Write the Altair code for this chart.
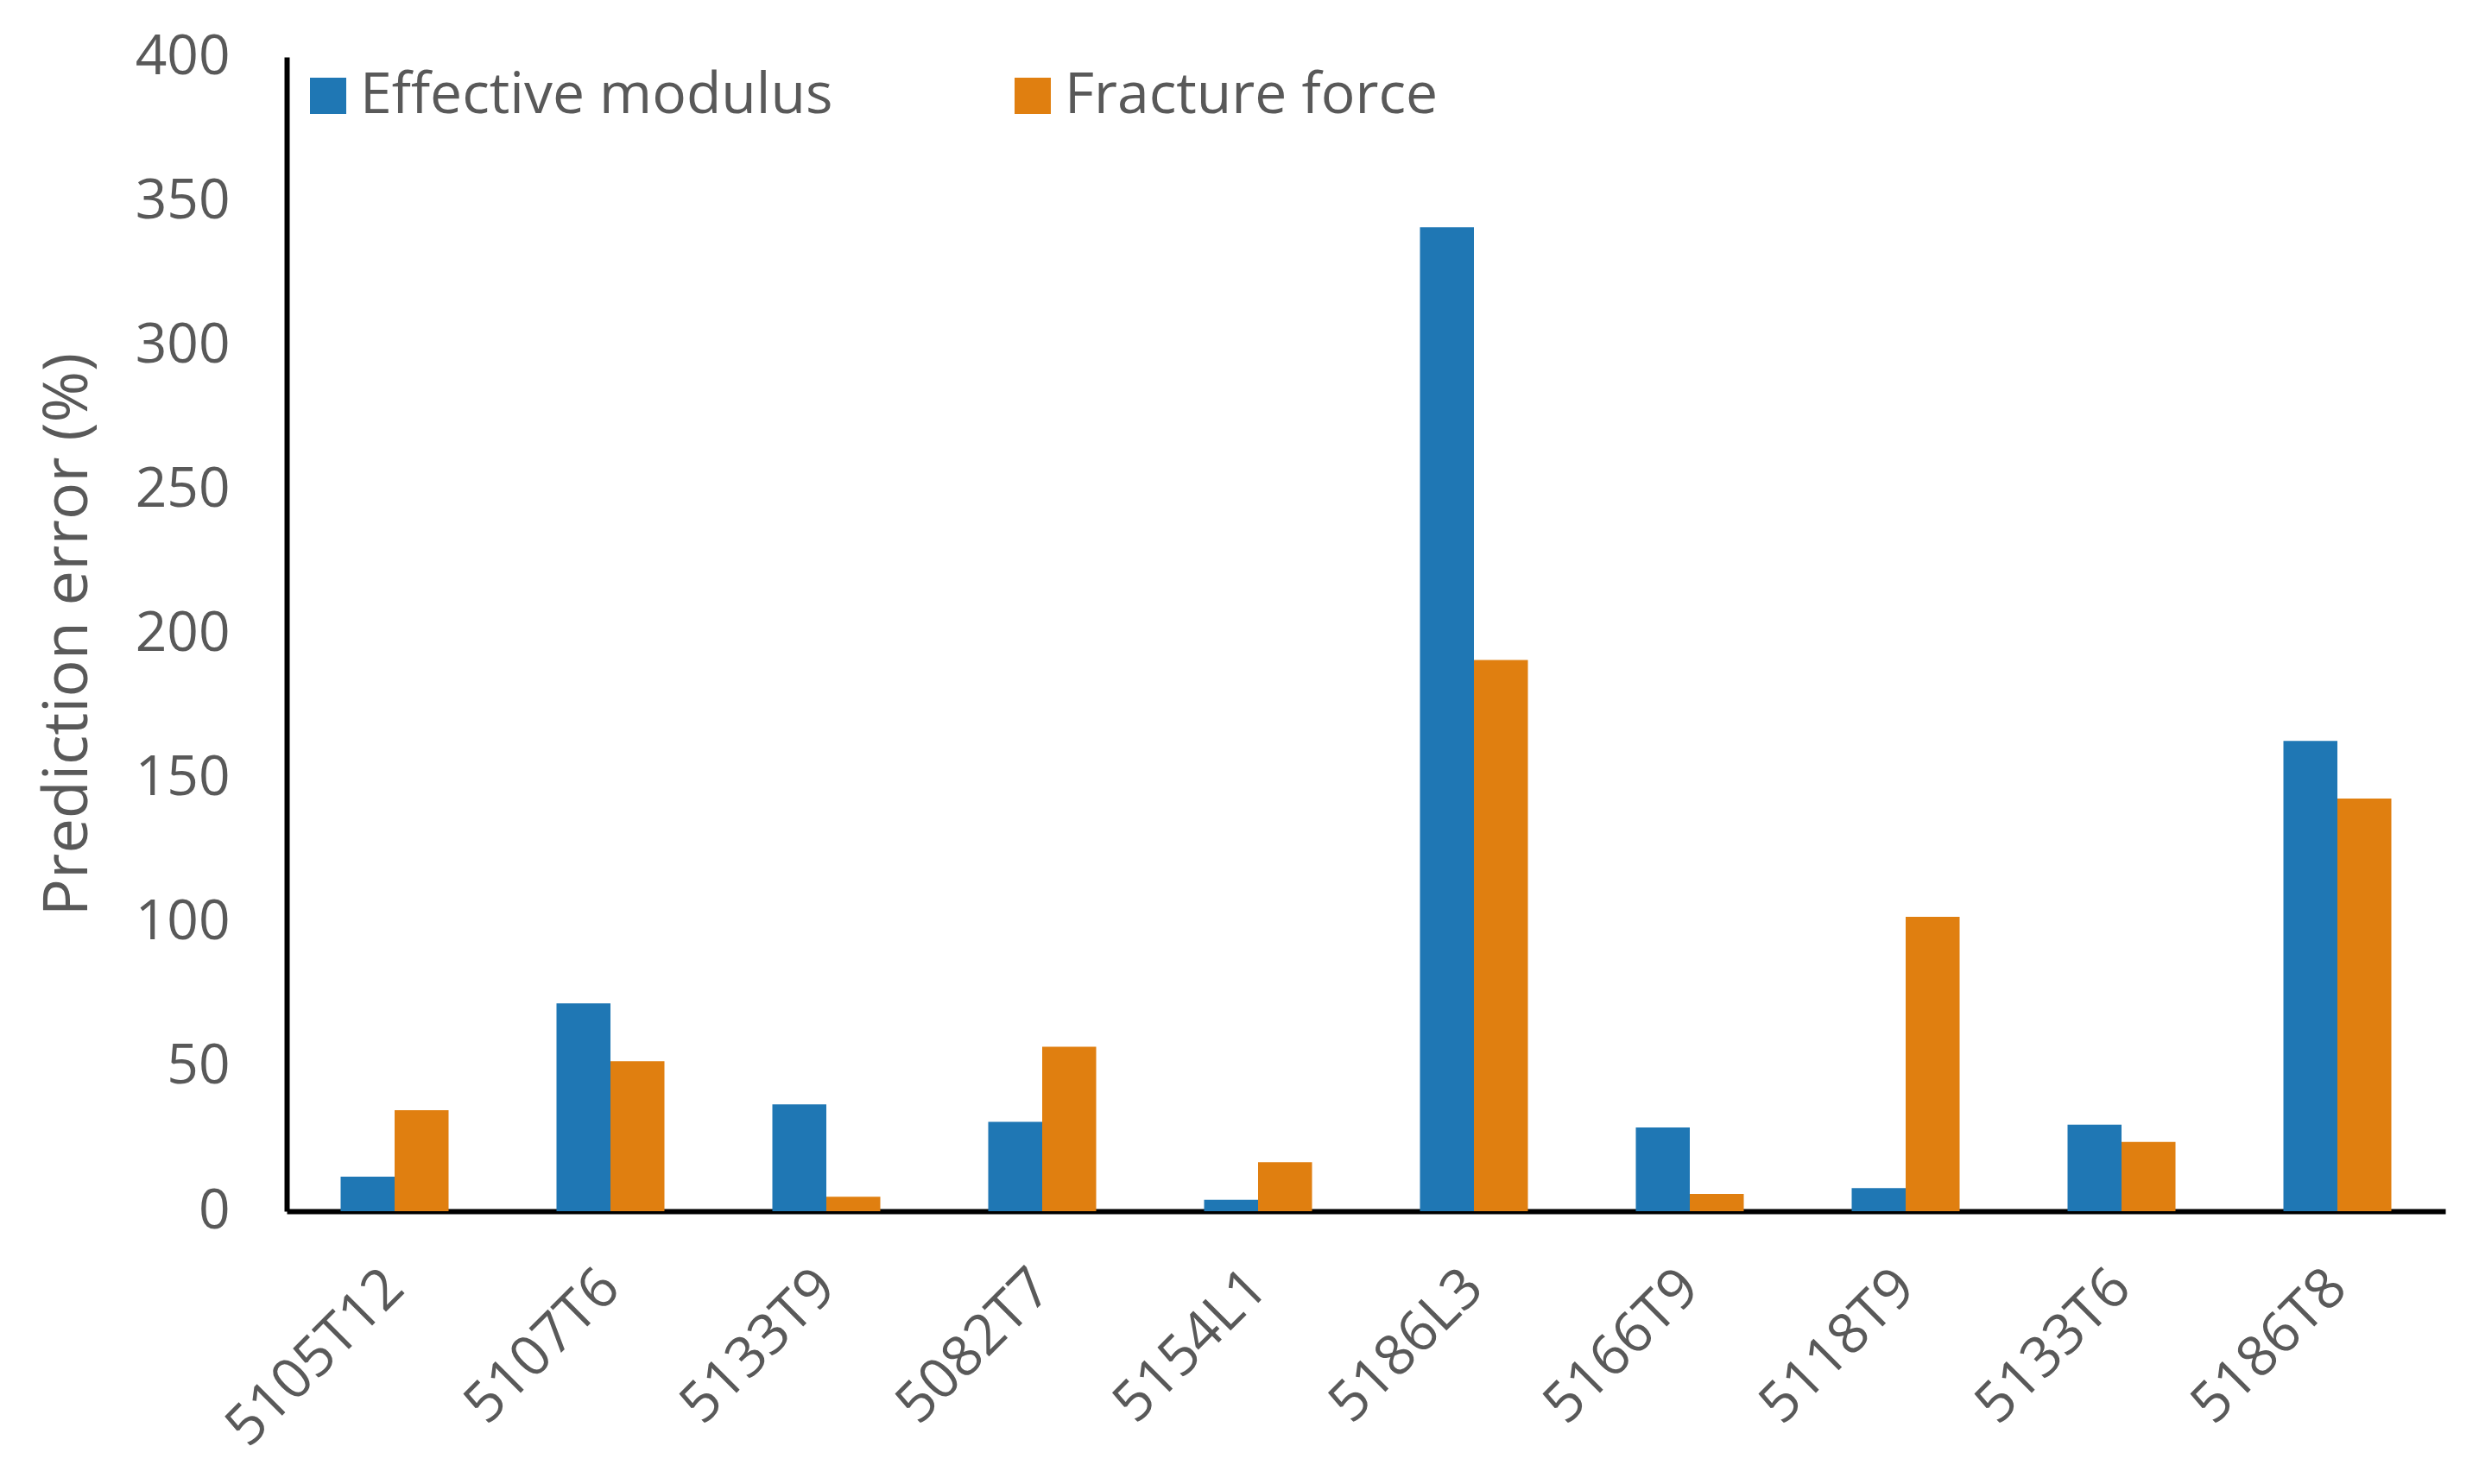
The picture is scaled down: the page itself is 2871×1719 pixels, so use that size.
import altair as alt
import pandas as pd

categories = ["5105T12", "5107T6", "5133T9", "5082T7", "5154L1",
              "5186L3", "5166T9", "5118T9", "5133T6", "5186T8"]
effective_modulus = [12, 72, 37, 31, 4, 341, 29, 8, 30, 163]
fracture_force = [35, 52, 5, 57, 17, 191, 6, 102, 24, 143]
series = ["Effective modulus", "Fracture force"]
colors = ["#1F77B4", "#E07F10"]
y_ticks = [0, 50, 100, 150, 200, 250, 300, 350, 400]

rows = []
for c, e, f in zip(categories, effective_modulus, fracture_force):
    rows.append({"Sample": c, "Series": series[0], "Value": e})
    rows.append({"Sample": c, "Series": series[1], "Value": f})
df = pd.DataFrame(rows)

FONT = "Open Sans"
TXT = "#595959"

chart = alt.Chart(df).mark_bar().encode(
    x=alt.X("Sample:N", sort=categories,
            scale=alt.Scale(paddingInner=0.5, paddingOuter=0.25),
            axis=alt.Axis(title=None, labelAngle=-45, ticks=False, labelLimit=0,
                          labelPadding=56, labelOffset=-22, labelFontSize=65,
                          labelFont=FONT, labelColor=TXT,
                          domainColor="black", domainWidth=6)),
    xOffset=alt.XOffset("Series:N", sort=series,
                        scale=alt.Scale(paddingInner=0, paddingOuter=0)),
    y=alt.Y("Value:Q", scale=alt.Scale(domain=[0, 400], nice=False),
            axis=alt.Axis(title="Prediction error (%)", values=y_ticks, grid=False,
                          ticks=False, labelPadding=66, labelFontSize=64, labelLimit=0,
                          labelFont=FONT, labelColor=TXT, titleFont=FONT,
                          titleFontSize=72, titleFontWeight="normal",
                          titleColor=TXT, titlePadding=41,
                          domainColor="black", domainWidth=6)),
    color=alt.Color("Series:N", sort=series,
                    scale=alt.Scale(domain=series, range=colors),
                    legend=alt.Legend(title=None, orient="none", legendX=15, legendY=12,
                                      direction="horizontal", symbolType="square",
                                      symbolSize=1764, symbolStrokeWidth=0,
                                      labelFont=FONT, labelFontSize=66, labelLimit=0,
                                      labelColor=TXT, labelOffset=4,
                                      columnPadding=198, padding=0)),
).properties(
    width=2500, height=1337,
    padding={"left": 34, "top": 26, "right": 10, "bottom": 10},
).configure_view(stroke=None)

chart.save("out.html", embed_options={"renderer": "svg", "actions": False})
